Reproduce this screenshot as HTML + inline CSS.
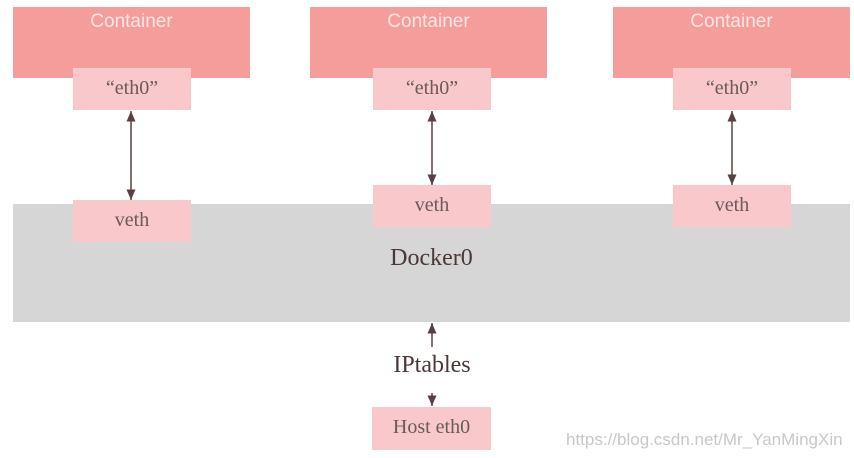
<!DOCTYPE html>
<html><head><style>
body{margin:0;width:854px;height:458px;background:#fff;position:relative;overflow:hidden;font-family:"Liberation Serif",serif}
div{position:absolute;box-sizing:border-box}
.c{background:#f49d9a;color:#fbe6e5;font-family:"Liberation Sans",sans-serif;font-size:19px;text-align:center;padding-top:4px;width:237px;height:71px;top:7px}
.p{background:#f9c8ca;color:#6a5a5a;font-size:20px;text-align:center;width:118px;height:42px;line-height:40px}
.g{background:#d6d6d6;left:13px;top:204px;width:837px;height:118px}
</style></head><body>
<div class="g"></div>
<div style="left:13px;top:245px;width:837px;text-align:center;font-size:24px;color:#4a3838">Docker0</div>
<div class="c" style="left:13px">Container</div>
<div class="c" style="left:310px">Container</div>
<div class="c" style="left:613px">Container</div>
<div class="p" style="left:73px;top:68px">“eth0”</div>
<div class="p" style="left:373px;top:68px">“eth0”</div>
<div class="p" style="left:673px;top:68px">“eth0”</div>
<div class="p" style="left:73px;top:200px">veth</div>
<div class="p" style="left:373px;top:185px">veth</div>
<div class="p" style="left:673px;top:185px">veth</div>
<div class="p" style="left:372px;top:407px;width:119px;height:43px">Host eth0</div>
<div style="left:332px;top:352px;width:200px;text-align:center;font-size:24px;color:#4a3838">IPtables</div>
<div style="left:566px;top:430px;font-family:'Liberation Sans',sans-serif;font-size:17px;color:#c8c8c8;white-space:nowrap">https://blog.csdn.net/Mr_YanMingXin</div>
<svg width="854" height="458" style="position:absolute;left:0;top:0">
<defs><marker id="a" markerWidth="8" markerHeight="8" refX="7" refY="4" orient="auto-start-reverse"><path d="M0,1 L7,4 L0,7 z" fill="#5a4040"/></marker></defs>
<g stroke="#5a4040" stroke-width="1.5">
<line x1="131" y1="200" x2="131" y2="111" marker-start="url(#a)" marker-end="url(#a)"/>
<line x1="432" y1="185" x2="432" y2="111" marker-start="url(#a)" marker-end="url(#a)"/>
<line x1="732" y1="185" x2="732" y2="111" marker-start="url(#a)" marker-end="url(#a)"/>
<line x1="432" y1="347" x2="432" y2="323" marker-end="url(#a)"/>
<line x1="432" y1="393" x2="432" y2="406" marker-end="url(#a)"/>
</g>
</svg>
</body></html>
